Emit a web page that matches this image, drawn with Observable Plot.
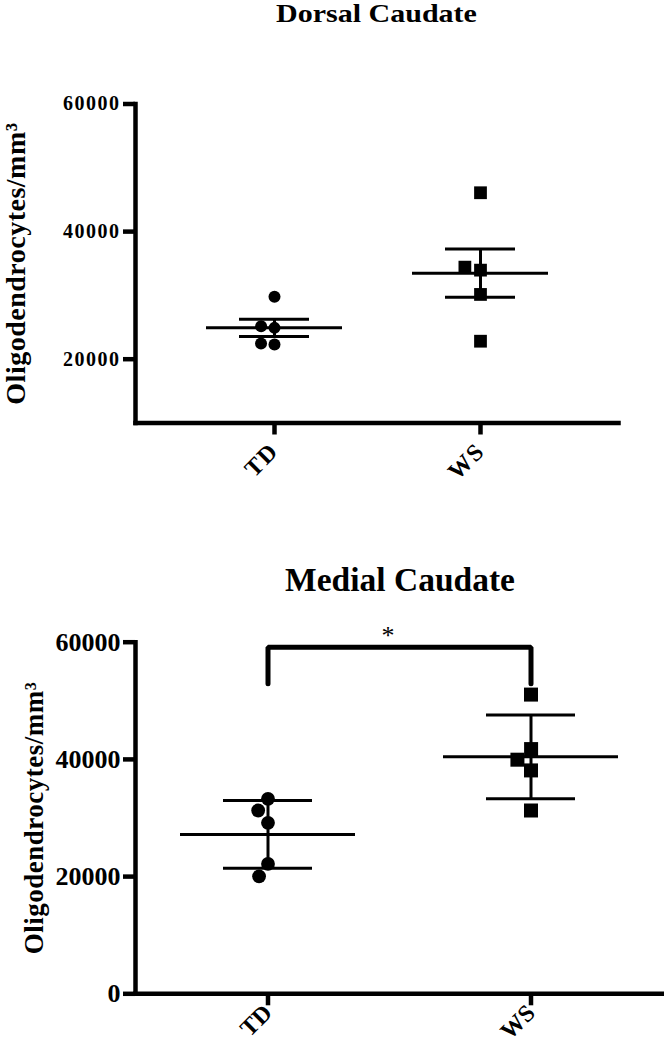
<!DOCTYPE html>
<html>
<head>
<meta charset="utf-8">
<script src="https://cdn.jsdelivr.net/npm/d3@7"></script>
<script src="https://cdn.jsdelivr.net/npm/@observablehq/plot@0.6"></script>
<style>
  html, body { margin: 0; padding: 0; background: #fff; overflow: hidden; }
  #page { position: relative; width: 664px; height: 1050px; overflow: hidden; background: #fff;
          font-family: "Liberation Serif", "Times New Roman", serif; }
  .panel { position: absolute; left: 0; width: 664px; }
  #topPlot { top: 0; }
  #botPlot { top: 540px; }
  .title { position: absolute; font-weight: bold; color: #000; text-align: center; white-space: nowrap; z-index: 2; }
  #topTitle { left: 135px; width: 483px; top: 1px; font-size: 25px; line-height: 25px; transform: scaleX(1.2); }
  #botTitle { left: 135px; width: 530px; top: 563px; font-size: 33.5px; line-height: 34px; }
  #topPlot svg { letter-spacing: 1.5px; }
  #topPlot g[aria-label="y-axis label"] { font-size: 28px; letter-spacing: 0.5px; }
  #botPlot g[aria-label="y-axis label"] { font-size: 27px; letter-spacing: 0.5px; }
</style>
</head>
<body>
<div id="page">
  <div id="topTitle" class="title">Dorsal Caudate</div>
  <div id="topPlot" class="panel"></div>
  <div id="botTitle" class="title">Medial Caudate</div>
  <div id="botPlot" class="panel"></div>
</div>
<script>
// ---------- data ----------
const groups = ["TD", "WS"];
const yLabel = "Oligodendrocytes/mm³";

// Dorsal caudate (mean ± SEM)
const dorsalTD = [29770, 24910, 25180, 22300, 22460];
const dorsalWS = [46090, 33960, 34430, 30150, 22820];
const dorsalYDomain = [10000, 60000];
const dorsalYTicks = [20000, 40000, 60000];

// Medial caudate (mean ± SD)
const medialTD = [33280, 31280, 29180, 22170, 20050];
const medialWS = [51060, 38120, 39950, 41760, 31280];
const medialYDomain = [0, 60000];
const medialYTicks = [0, 20000, 40000, 60000];

// significance bracket (medial caudate)
const sigPair = ["TD", "WS"];
const sigTop = 59150;
const sigLeg = 52900;
const sigMark = "*";

// ---------- helpers ----------
const sem = v => d3.deviation(v) / Math.sqrt(v.length);
const sd = v => d3.deviation(v);
function summary(group, values, errFn) {
  const m = d3.mean(values), e = errFn(values);
  return {group, mean: m, lo: m - e, hi: m + e};
}
const rows = (group, values) => values.map(value => ({group, value}));

// dodge points around their own category (library dodge, then moved to the category position)
function dodgeAt(options, padding) {
  return Plot.initializer(
    Plot.dodgeX({anchor: "middle", padding}, options),
    function (data, facets, channels, scales, dimensions) {
      const {marginLeft, marginRight, width} = dimensions;
      const mid = (marginLeft + width - marginRight) / 2;
      const X0 = channels.x.value;
      const X = Float64Array.from(X0, (x, i) => x - mid + scales.x(data[i].group));
      return {data, facets, channels: {x: {value: X}}};
    }
  );
}

const fmt = d3.format("d");
const fontStyle = {fontFamily: "'Liberation Serif', 'Times New Roman', serif", fontWeight: "bold", color: "black", background: "transparent", overflow: "visible"};

function panel(o) {
  const stats = [summary("TD", o.td, o.err), summary("WS", o.ws, o.err)];
  return Plot.plot({
    width: 664,
    height: o.height,
    marginTop: o.marginTop,
    marginBottom: o.marginBottom,
    marginLeft: 135,
    marginRight: o.marginRight,
    style: fontStyle,
    x: {type: "band", domain: groups, paddingInner: o.paddingInner, paddingOuter: o.paddingOuter},
    y: {domain: o.yDomain},
    marks: [
      Plot.axisY({ticks: o.yTicks, tickFormat: fmt, tickSize: 12, tickPadding: 3, strokeWidth: 4.5,
                  fontSize: o.yTickFont, fontWeight: "bold",
                  label: yLabel, labelAnchor: "center", labelOffset: o.labelOffset, labelArrow: "none"}),
      Plot.axisX({tickSize: 12, tickPadding: o.xTickPadding, tickRotate: -45, strokeWidth: 4.5, label: null,
                  fontSize: o.xTickFont, fontWeight: "bold"}),
      Plot.frame({anchor: "left", strokeWidth: 4.5, strokeLinecap: "square"}),
      Plot.frame({anchor: "bottom", strokeWidth: 4.5, strokeLinecap: "square"}),
      Plot.tickY(stats, {x: "group", y: "mean", strokeWidth: 3}),
      Plot.tickY(stats, {x: "group", y: "lo", strokeWidth: 3, insetLeft: o.capInset, insetRight: o.capInset}),
      Plot.tickY(stats, {x: "group", y: "hi", strokeWidth: 3, insetLeft: o.capInset, insetRight: o.capInset}),
      Plot.ruleX(stats, {x: "group", y1: "lo", y2: "hi", strokeWidth: 3}),
      Plot.dot(rows("TD", o.td), dodgeAt({y: "value", r: o.rCircle, symbol: "circle", fill: "black", stroke: "none"}, 1.5)),
      Plot.dot(rows("WS", o.ws), dodgeAt({y: "value", r: o.rSquare, symbol: "square", fill: "black", stroke: "none"}, 1.5)),
      ...(o.extra || [])
    ]
  });
}

const bracket = [
  {group: sigPair[0], value: sigLeg},
  {group: sigPair[0], value: sigTop},
  {group: sigPair[1], value: sigTop},
  {group: sigPair[1], value: sigLeg}
];

document.getElementById("topPlot").append(panel({
  td: dorsalTD, ws: dorsalWS, err: sem,
  yDomain: dorsalYDomain, yTicks: dorsalYTicks,
  height: 540, marginTop: 103.5, marginBottom: 117.5, marginRight: 46,
  paddingInner: 0.34, paddingOuter: 0.342, capInset: 33,
  rCircle: 6, rSquare: 7.2, labelOffset: 130, yTickFont: 20, xTickFont: 24, xTickPadding: 12
}));

document.getElementById("botPlot").append(panel({
  td: medialTD, ws: medialWS, err: sd,
  yDomain: medialYDomain, yTicks: medialYTicks,
  height: 510, marginTop: 101.7, marginBottom: 56.7, marginRight: 0,
  paddingInner: 0.333, paddingOuter: 0.1685, capInset: 43,
  rCircle: 6.9, rSquare: 7.9, labelOffset: 112, yTickFont: 26, xTickFont: 24, xTickPadding: 3,
  extra: [
    Plot.line(bracket, {x: "group", y: "value", strokeWidth: 5, strokeLinejoin: "miter", strokeLinecap: "round"}),
    Plot.text([{label: sigMark, value: sigTop}], {text: "label", y: "value", dx: -12, dy: -12, fontSize: 26, fontWeight: "normal", fill: "black"})
  ]
}));
</script>
</body>
</html>
